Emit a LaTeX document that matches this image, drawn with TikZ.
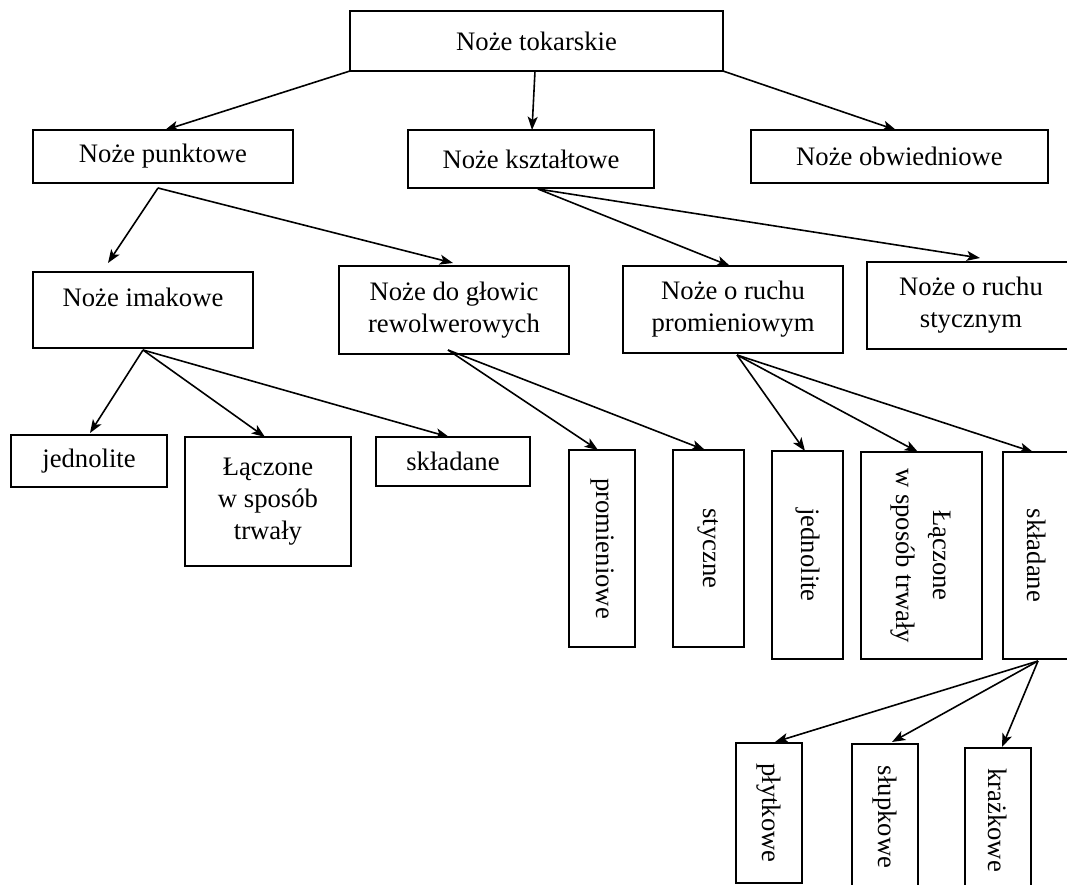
\documentclass[tikz,border=0pt]{standalone}
\usepackage{fontspec}
\setmainfont{Liberation Serif}
\usepackage{graphicx}
\usetikzlibrary{arrows.meta,calc}
\begin{document}
\begin{tikzpicture}[x=0.75pt,y=-0.75pt,
  box/.style={draw, line width=1.9pt, inner sep=0pt, outer sep=0pt, align=center,
    font=\fontsize{20}{24}\selectfont},
  thinbox/.style={box, line width=1pt},
  wh/.style 2 args={minimum width=#1*0.75pt, minimum height=#2*0.75pt},
  arr/.style={line width=1.2pt, -{Stealth[length=10pt,width=7.5pt,inset=2.5pt]}}]
\useasboundingbox (0,0) rectangle (1067,885);

% level 0
\node[box, wh={373}{60}] (tok) at (536.5,41) {Noże tokarskie};
% level 1
\node[box, wh={260}{53}] (punkt) at (163,156.5) {Noże punktowe};
\node[box, wh={246}{58}] (ksztal) at (531,159) {Noże kształtowe};
\node[box, wh={297}{53}] (obw) at (899.5,156.5) {Noże obwiedniowe};
% level 2
\node[box, wh={220}{76}, text height=14pt, text depth=19pt] (imak) at (143,310) {Noże imakowe};
\node[thinbox, wh={230}{88}] (glow) at (454,310) {Noże do głowic\\rewolwerowych};
\node[box, wh={220}{87}] (prom) at (733,309.5) {Noże o ruchu\\promieniowym};
\node[box, wh={208}{87}] (styc) at (971,305.5) {Noże o ruchu\\stycznym};
% level 3 left
\node[box, wh={156}{52}] (jedn1) at (89,461) {jednolite};
\node[box, wh={166}{129}] (lacz1) at (268,501.5) {Łączone\\w sposób\\trwały};
\node[box, wh={154}{49}] (skl1) at (453,461.5) {składane};
% level 3 right (vertical)
\node[box, wh={66}{197}] (promw) at (602,548.5) {\rotatebox{-90}{promieniowe}};
\node[box, wh={71}{197}] (stycz) at (708.5,548.5) {\rotatebox{-90}{styczne}};
\node[box, wh={71}{208}] (jedn2) at (807.5,555) {\rotatebox{-90}{jednolite}};
\node[box, wh={121}{207}] (lacz2) at (921.5,555.5) {\rotatebox{-90}{\begin{tabular}{@{}c@{}}Łączone\\[4pt]w sposób trwały\end{tabular}}};
\node[box, wh={67}{207}] (skl2) at (1036.5,555.5) {\rotatebox{-90}{składane}};
% level 4
\node[box, wh={66}{140}] (plyt) at (769,813) {\rotatebox{-90}{płytkowe}};
\node[box, wh={66}{146}] (slup) at (885,817) {\rotatebox{-90}{słupkowe}};
\node[box, wh={66}{144}] (kraz) at (998,820) {\rotatebox{-90}{krażkowe}};

% connectors
\draw[arr] (tok.south west) -- ($(punkt.north west)+(132,0)$);
\draw[arr] ($(tok.south west)+(185,0)$) -- ($(ksztal.north west)+(124,0)$);
\draw[arr] (tok.south east) -- ($(obw.north west)+(145,0)$);

\draw[arr] ($(punkt.south west)+(125,5)$) -- ($(imak.north west)+(75,-9)$);
\draw[arr] ($(punkt.south west)+(125,5)$) -- ($(glow.north west)+(114,-3)$);

\draw[arr] ($(ksztal.south west)+(130,1)$) -- ($(prom.north west)+(107,0)$);
\draw[arr] ($(ksztal.south west)+(130,1)$) -- ($(styc.north west)+(113,-4)$);

\draw[arr] ($(imak.south west)+(110,2)$) -- ($(jedn1.north west)+(79,-2)$);
\draw[arr] ($(imak.south west)+(110,2)$) -- ($(lacz1.north west)+(80,0)$);
\draw[arr] ($(imak.south west)+(110,2)$) -- ($(skl1.north west)+(73,0)$);

\draw[arr] ($(glow.south west)+(109,-4)$) -- ($(promw.north west)+(29,0)$);
\draw[arr] ($(glow.south west)+(109,-4)$) -- ($(stycz.north west)+(32,0)$);

\draw[arr] ($(prom.south west)+(114,2)$) -- ($(jedn2.north west)+(33,0)$);
\draw[arr] ($(prom.south west)+(114,2)$) -- ($(lacz2.north west)+(57,0)$);
\draw[arr] ($(prom.south west)+(114,2)$) -- ($(skl2.north west)+(30,0)$);

\draw[arr] ($(skl2.south west)+(35,2)$) -- ($(plyt.north west)+(39,-1)$);
\draw[arr] ($(skl2.south west)+(35,2)$) -- ($(slup.north west)+(40,-2)$);
\draw[arr] ($(skl2.south west)+(35,2)$) -- ($(kraz.north west)+(37,-1)$);
\end{tikzpicture}
\end{document}
